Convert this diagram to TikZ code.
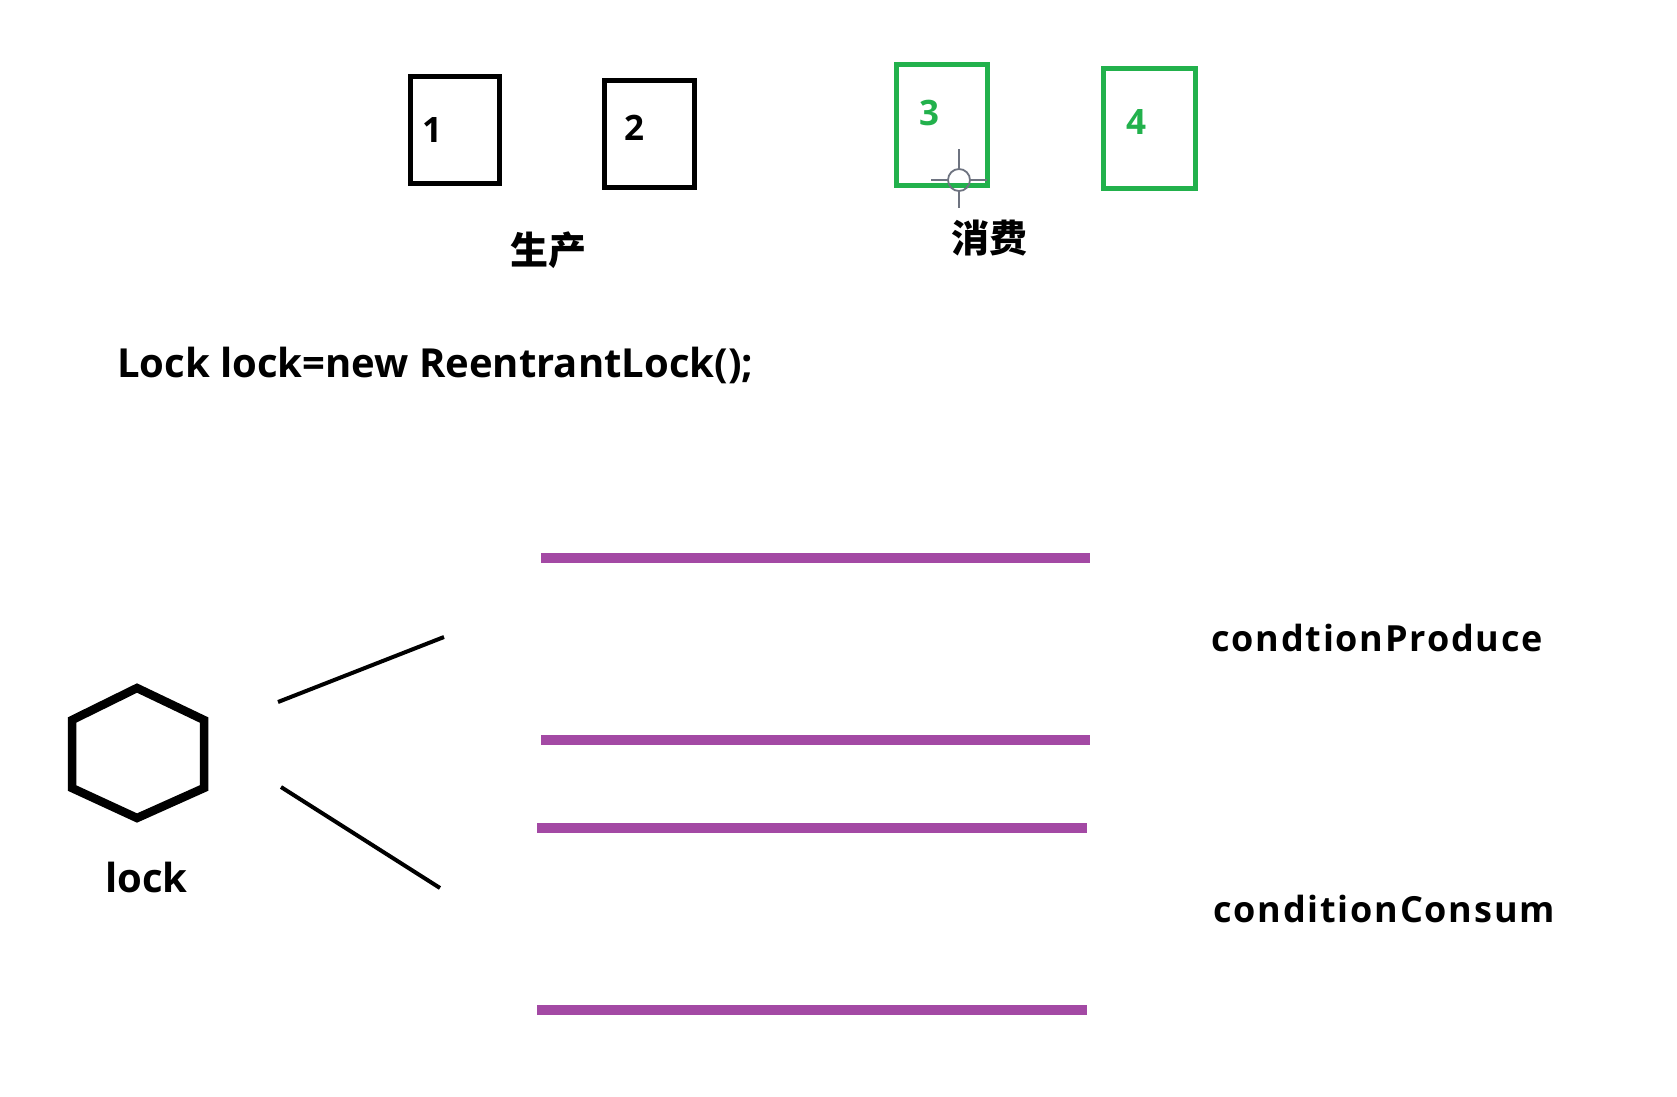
\documentclass[tikz,border=0pt]{standalone}
\usepackage{fontspec}
\setmainfont{Open Sans}
\newfontfamily\cjkf{Noto Sans CJK SC}
\newfontfamily\spacedf[LetterSpace=5]{Open Sans}
\definecolor{pgreen}{HTML}{22B14C}
\definecolor{ppurple}{HTML}{A349A4}
\definecolor{cursorgray}{HTML}{6E7380}
\begin{document}
\begin{tikzpicture}[x=1pt,y=-1pt,
  box/.style={draw=black,line width=5pt},
  gbox/.style={draw=pgreen,line width=5pt},
  digit/.style={font=\fontsize{35}{40}\selectfont\bfseries,inner sep=0pt},
  cjklabel/.style={font=\cjkf\fontsize{38}{44}\selectfont\bfseries,inner sep=0pt},
  codetext/.style={font=\fontsize{40}{46}\selectfont\bfseries,inner sep=0pt,anchor=base west},
  condlabel/.style={font=\spacedf\fontsize{36}{42}\selectfont\bfseries,inner sep=0pt,anchor=base west},
  branch/.style={draw=black,line width=4pt},
  cline/.style={draw=ppurple,line width=9.5pt},
  cursorline/.style={draw=cursorgray,line width=2pt}]
\useasboundingbox[fill=white] (0,0) rectangle (1677,1096);
% producer boxes
\draw[box] (410,76) rectangle (499,183);
\draw[box] (604,80) rectangle (694,187);
\node[digit] (d1) at (432,130) {1};
\node[digit] (d2) at (634,128) {2};
\node[cjklabel] (prod) at (548,250) {生产};
% consumer boxes
\draw[gbox] (896,64) rectangle (987,185);
\draw[gbox] (1103,68) rectangle (1195,188);
\node[digit,text=pgreen] (d3) at (929,113) {3};
\node[digit,text=pgreen] (d4) at (1136,122) {4};
\node[cjklabel] (cons) at (989,238) {消费};
% cursor
\coordinate (cur) at (959,180);
\draw[cursorgray,line width=1.8pt] (cur) circle (11);
\draw[cursorline] (959,149) -- (959,169);
\draw[cursorline] (959,191) -- (959,208);
\draw[cursorline] (931,180) -- (948,180);
\draw[cursorline] (970,180) -- (987,180);
% code
\node[codetext] (code) at (117,377) {Lock lock=new ReentrantLock();};
% lock hexagon
\draw[black,line width=8.5pt,line join=miter]
  (137,688) -- (204,720) -- (204,788) -- (137,818) -- (72,788) -- (72,720) -- cycle;
\node[codetext] (lock) at (105,892) {lock};
% branches
\coordinate (b1s) at (278,702);
\coordinate (b1e) at (444,637);
\coordinate (b2s) at (281,787);
\coordinate (b2e) at (440,888);
\draw[branch] (b1s) -- (b1e);
\draw[branch] (b2s) -- (b2e);
% condition lines
\coordinate (p1a) at (541,558); \coordinate (p1b) at (1090,558);
\coordinate (p2a) at (541,740); \coordinate (p2b) at (1090,740);
\coordinate (c1a) at (537,828); \coordinate (c1b) at (1087,828);
\coordinate (c2a) at (537,1010); \coordinate (c2b) at (1087,1010);
\draw[cline] (p1a) -- (p1b);
\draw[cline] (p2a) -- (p2b);
\draw[cline] (c1a) -- (c1b);
\draw[cline] (c2a) -- (c2b);
\node[condlabel] (cp) at (1211,651) {condtionProduce};
\node[condlabel] (cc) at (1213,922) {conditionConsum};
\end{tikzpicture}
\end{document}
